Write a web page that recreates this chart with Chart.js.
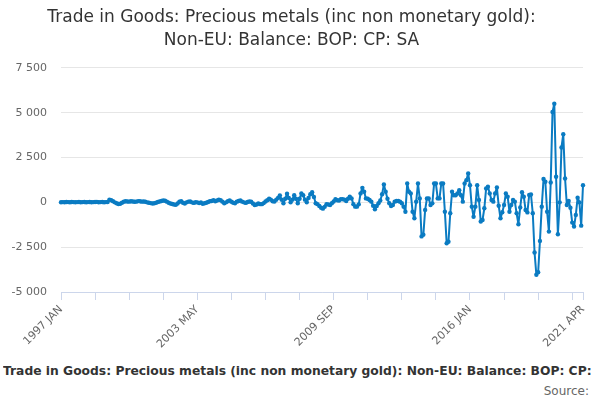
<!DOCTYPE html>
<html lang="en">
<head>
  <meta charset="UTF-8">
  <title>Trade in Goods: Precious metals - Non-EU Balance</title>
  <script src="https://cdn.jsdelivr.net/npm/chart.js"></script>
  <style>
    * { margin: 0; padding: 0; box-sizing: border-box; }
    body { width: 600px; height: 400px; background: #fff; font-family: "DejaVu Sans", sans-serif; overflow: hidden; position: relative; }
    .wrap { position: absolute; left: 0; top: 0; width: 600px; height: 360px; }
    #footTitle { position: absolute; left: 3px; top: 364px; width: 588px; white-space: nowrap; overflow: hidden; font-weight: bold; font-size: 12.3px; color: #333; }
    #source { position: absolute; right: 11px; top: 384px; font-size: 12px; color: #666; }
  </style>
</head>
<body>
  <div class="wrap"><canvas id="chart"></canvas></div>
  <div id="footTitle">Trade in Goods: Precious metals (inc non monetary gold): Non-EU: Balance: BOP: CP: SA</div>
  <div id="source">Source:</div>

  <script>
    const startYear = 1997;
    const monthNames = ['JAN', 'FEB', 'MAR', 'APR', 'MAY', 'JUN', 'JUL', 'AUG', 'SEP', 'OCT', 'NOV', 'DEC'];
    const titleLines = ['Trade in Goods: Precious metals (inc non monetary gold):', 'Non-EU: Balance: BOP: CP: SA'];
    const yTicks = [-5000, -2500, 0, 2500, 5000, 7500];

    // monthly balance, £ million, 1997 JAN .. 2021 APR (one row per year)
    const balance = [
      10, 15, 10, 20, 15, 10, 20, 15, 10, 15, 20, 10,
      15, 20, 10, 15, 20, 10, 15, 20, 25, 10, 15, 20,
      10, 15, 20, 150, 120, 60, 0, -50, -90, -80, -20, 30,
      60, 50, 40, 60, 50, 30, 40, 70, 60, 40, 50, 30,
      0, -20, -40, -60, -50, -20, 20, 50, 80, 100, 90, 40,
      -20, -60, -90, -120, -140, -60, 30, 60, -20, -60, 0, 40,
      50, 0, -30, 10, 0, -40, -10, -80, -50, -20, 20, 60,
      80, 120, 60, 100, 150, 120, 40, -50, 0, 60, 100, 30,
      -20, -50, 40, 80, 100, 40, 0, -30, 20, 50, 30, -60,
      -150, -120, -60, -100, -100, -40, 50, 120, 200, 150, 60, 50,
      150, 250, 390, 150, -50, 200, 480, 250, 0, 150, 400, 200,
      -50, 200, 500, 400, 150, 0, 250, 450, 570, 300, -50, -100,
      -200, -300, -350, -250, -100, -120, -150, -50, 50, 170, 120, 100,
      170, 180, 150, 75, 200, 310, 220, -100, -240, -240, -110, 500,
      810, 590, 220, 200, 130, 40, -185, -390, -200, -50, 100, 450,
      1000, 590, 200, -50, -200, -150, 40, 75, 75, 40, -50, -240,
      -520, 1050, 590, 500, -520, -890, 40, 1050, 220, -1900, -1800, -420,
      220, 220, -150, -55, 1050, 1050, 220, 220, 1050, 1050, -520, -2280,
      -2200, -610, 590, 400, 400, 500, 680, 400, 40, 1050, 1240, 1610,
      960, -240, -800, -240, 960, 130, -1070, -980, -330, 780, 870, 500,
      130, 40, 500, 830, -185, -890, -550, -150, 500, 315, -520, -150,
      130, 40, -610, -1220, -280, 560, 315, -430, -560, 410, 440, -610,
      -2800, -4040, -3900, -2150, -240, 1300, 1150, -520, -1630, 1110, 5040, 5500,
      1430, -1780, 0, 3060, 3800, 1330, -150, 75, -300, -1130, -1350, -700,
      260, 0, -1300, 960
    ];

    const labels = balance.map((v, i) => (startYear + Math.floor(i / 12)) + ' ' + monthNames[i % 12]);
    const last = labels.length - 1;

    function spaced(v) {
      const s = String(Math.abs(v)).replace(/\B(?=(\d{3})+(?!\d))/g, ' ');
      return (v < 0 ? '-' : '') + s;
    }

    new Chart(document.getElementById('chart'), {
      type: 'line',
      data: {
        labels: labels,
        datasets: [{
          data: balance,
          borderColor: '#0a7bc2',
          backgroundColor: '#0a7bc2',
          borderWidth: 2,
          borderJoinStyle: 'round',
          pointRadius: 2.2,
          pointBorderWidth: 0,
          pointHoverRadius: 3,
          tension: 0
        }]
      },
      options: {
        responsive: true,
        maintainAspectRatio: false,
        animation: false,
        layout: { padding: { left: 0, right: 17, top: 0, bottom: 0 } },
        plugins: {
          legend: { display: false },
          tooltip: { enabled: false },
          title: {
            display: true,
            text: titleLines,
            color: '#333',
            font: { family: 'DejaVu Sans', size: 17, weight: 'normal', lineHeight: 1.35 },
            padding: { top: 6, bottom: 16 }
          }
        },
        scales: {
          x: {
            offset: false,
            border: { display: true, color: '#ccd6eb', width: 1 },
            grid: {
              drawOnChartArea: false,
              drawTicks: true,
              tickLength: 8,
              color: ctx => (ctx.index % 19 === 0 || ctx.index === last) ? '#ccd6eb' : 'rgba(0,0,0,0)'
            },
            ticks: {
              autoSkip: false,
              minRotation: 45,
              maxRotation: 45,
              color: '#666',
              font: { family: 'DejaVu Sans', size: 11 },
              callback: function(val, idx) {
                return (idx % 76 === 0 || idx === last) ? labels[idx] : '';
              }
            },
            afterFit: s => { s.height = 68; }
          },
          y: {
            min: -5000,
            max: 7500,
            afterBuildTicks: s => { s.ticks = yTicks.map(v => ({ value: v })); },
            border: { display: false },
            grid: { color: '#e6e6e6', drawTicks: false },
            ticks: {
              color: '#666',
              padding: 14,
              font: { family: 'DejaVu Sans', size: 11 },
              callback: v => spaced(v)
            },
            afterFit: s => { s.width = 61; }
          }
        }
      }
    });
  </script>
</body>
</html>
